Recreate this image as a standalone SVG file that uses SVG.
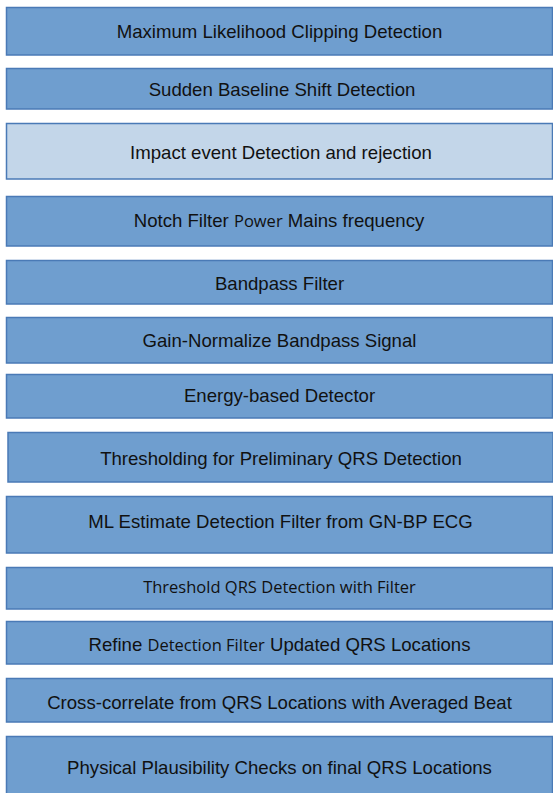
<svg xmlns="http://www.w3.org/2000/svg" width="553" height="793" viewBox="0 0 553 793">
<style>
.b{fill:#6f9ecf;stroke:#4a7ab6;stroke-width:1.5}
.l{fill:#c3d6e9;stroke:#4a7ab6;stroke-width:1.5}
.t{font-family:"Liberation Sans",Arial,sans-serif;font-size:18.6px;fill:#111;text-anchor:middle}
.c{font-family:"Open Sans","Noto Sans",sans-serif;font-size:16.5px}
</style>
<rect width="553" height="793" fill="#fff"/>
<g id="connectors"/>
<g id="n1"><rect class="b" x="6.5" y="7.5" width="546" height="47.5"/><text class="t" x="279.5" y="38">Maximum Likelihood Clipping Detection</text></g>
<g id="n2"><rect class="b" x="6.5" y="68.5" width="546" height="40.5"/><text class="t" x="282" y="96">Sudden Baseline Shift Detection</text></g>
<g id="n3"><rect class="l" x="6.5" y="123.5" width="546" height="55.5"/><text class="t" x="281" y="159">Impact event Detection and rejection</text></g>
<g id="n4"><rect class="b" x="6.5" y="196.5" width="546" height="49.5"/><text class="t" x="279" y="227">Notch Filter <tspan class="c">Power</tspan> Mains frequency</text></g>
<g id="n5"><rect class="b" x="6.5" y="260.5" width="546" height="43.5"/><text class="t" x="279.5" y="290">Bandpass Filter</text></g>
<g id="n6"><rect class="b" x="6.5" y="317.5" width="546" height="45.5"/><text class="t" x="279.5" y="347">Gain-Normalize Bandpass Signal</text></g>
<g id="n7"><rect class="b" x="6.5" y="374.5" width="546" height="43.5"/><text class="t" x="279.5" y="402">Energy-based Detector</text></g>
<g id="n8"><rect class="b" x="8" y="432.5" width="545" height="49.5"/><text class="t" x="281" y="465">Thresholding for Preliminary QRS Detection</text></g>
<g id="n9"><rect class="b" x="6.5" y="496.5" width="546" height="56.5"/><text class="t" x="280.5" y="528">ML Estimate Detection Filter from GN-BP ECG</text></g>
<g id="n10"><rect class="b" x="6.5" y="567.5" width="546" height="41.5"/><text class="t c" x="279.5" y="593">Threshold QRS Detection with Filter</text></g>
<g id="n11"><rect class="b" x="6.5" y="621.5" width="546" height="42.5"/><text class="t" x="279.5" y="651">Refine <tspan class="c">Detection Filter</tspan> Updated QRS Locations</text></g>
<g id="n12"><rect class="b" x="6.5" y="678.5" width="546" height="43.5"/><text class="t" x="279.5" y="709">Cross-correlate from QRS Locations with Averaged Beat</text></g>
<g id="n13"><rect class="b" x="6.5" y="736.5" width="546" height="60"/><text class="t" x="279.5" y="774">Physical Plausibility Checks on final QRS Locations</text></g>
</svg>
